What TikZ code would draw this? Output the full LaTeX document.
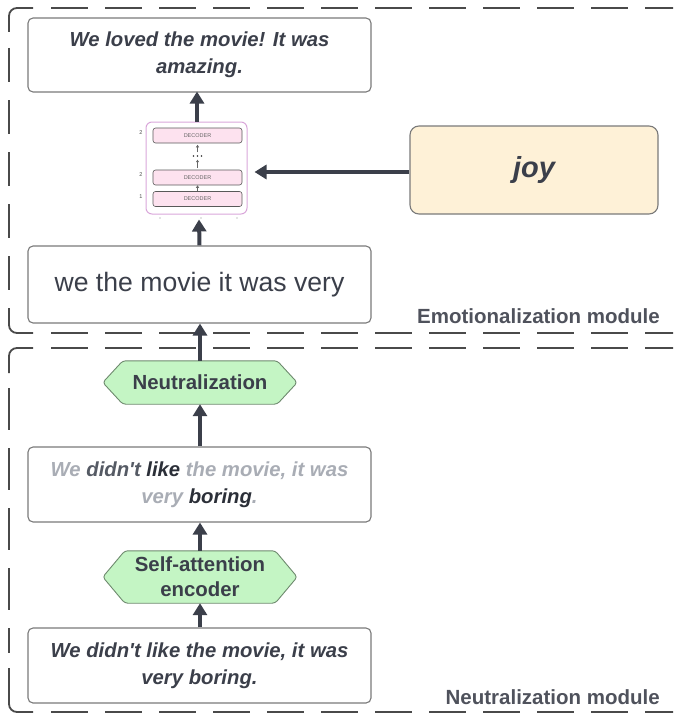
\documentclass[tikz,border=0pt]{standalone}
\usepackage{fontspec}
\setmainfont{Liberation Sans}
\usetikzlibrary{arrows.meta,calc}
\definecolor{txt}{HTML}{3B3F4A}
\definecolor{bord}{HTML}{7A7A7A}
\definecolor{dashc}{HTML}{4A4A4A}
\definecolor{lgt}{HTML}{A9ADB5}
\definecolor{dk1}{HTML}{555A64}
\definecolor{dk2}{HTML}{2B2F38}
\definecolor{joyfill}{HTML}{FEF1D7}
\definecolor{hexfill}{HTML}{C4F5C4}
\definecolor{hexbord}{HTML}{6E8A6E}
\definecolor{decfr}{HTML}{D9A6DA}
\definecolor{decfill}{HTML}{FDE2EF}
\newcommand{\aps}{\textquotesingle}
\tikzset{
  frameline/.style={draw=dashc, line width=1.8pt, rounded corners=8pt},
  edgedash/.style={frameline, dash pattern=on 37pt off 17pt},
  txtbox/.style={draw=bord, line width=1.1pt, rounded corners=5pt, fill=white, text=txt, align=center, inner sep=0pt, minimum width=343pt},
  bitext/.style={font=\bfseries\itshape\fontsize{20.3}{26.5}\selectfont},
  hexbox/.style={draw=none, inner sep=0pt, text=txt, align=center, font=\bfseries\fontsize{20.4}{25}\selectfont},
  hexline/.style={draw=hexbord, fill=hexfill, line width=0.9pt, rounded corners=3pt},
  bigarrow/.style={draw=txt, line width=4pt, -{Triangle[width=14pt,length=12pt]}},
  decbox/.style={draw=black!65, fill=decfill, line width=0.6pt, rounded corners=2.5pt, minimum width=89pt, minimum height=15pt, inner sep=0pt, font=\fontsize{5.5}{6}\selectfont, text=black!60},
  declabel/.style={font=\fontsize{5.5}{6}\selectfont, text=black!70, inner sep=0pt},
  smallarrow/.style={draw=black!60, line width=0.6pt, -{Triangle[width=3pt,length=2.5pt]}},
  modlabel/.style={font=\bfseries\fontsize{20.5}{22}\selectfont, text=txt!90!white, anchor=east, inner sep=0pt}
}
\begin{document}
\begin{tikzpicture}[x=1pt,y=-1pt]
\useasboundingbox (0,0) rectangle (673,717);
\clip (0,0) rectangle (673,717);
% emotionalization module frame
\draw[frameline] (9,32) -- (9,8) -- (33,8);
\draw[frameline] (9,308) -- (9,333) -- (33,333);
\draw[frameline, dash pattern=on 34pt off 18pt] (9,48) -- (9,292);
\draw[edgedash] (51,8) -- (700,8);
\draw[edgedash] (51,333) -- (700,333);
% neutralization module frame
\draw[frameline] (9,373) -- (9,348) -- (33,348);
\draw[frameline] (9,668) -- (9,712) -- (33,712);
\draw[frameline, dash pattern=on 42pt off 18pt] (9,388) -- (9,653);
\draw[edgedash] (51,348) -- (700,348);
\draw[edgedash] (51,712) -- (700,712);
\node[modlabel] (emolab) at (660,316) {Emotionalization module};
\node[modlabel] (neulab) at (660,697) {Neutralization module};

% top output box
\node[txtbox, bitext, minimum height=74pt] (out) at (199.5,55) {We loved the movie! It was\\amazing.};

% decoder block
\node[draw=decfr, line width=1pt, rounded corners=6pt, minimum width=101pt, minimum height=92pt, inner sep=0pt] (dec) at (196.5,168) {};
\node[decbox] (d3) at (197.5,135.5) {DECODER};
\node[decbox] (d2) at (197.5,177.5) {DECODER};
\node[decbox] (d1) at (197.5,199) {DECODER};
\node[minimum width=12pt, minimum height=4pt, inner sep=0pt] (dots) at (197.5,156) {};
\foreach \dx in {-4,0,4} \fill[black!80] ($(dots.center)+(\dx,0)$) circle (0.9pt);
\node[declabel] (l3) at (141,133) {2};
\node[declabel] (l2) at (141,175) {2};
\node[declabel] (l1) at (141,197) {1};
\draw[smallarrow] (d1.north) -- (d2.south);
\draw[smallarrow] ($(d2.north)+(0,-1.5)$) -- ($(dots.south)+(0,1.5)$);
\draw[smallarrow] ($(dots.north)+(0,-1.5)$) -- ($(d3.south)+(0,1.5)$);
\coordinate (t1) at (160,218);
\coordinate (t2) at (201,218);
\coordinate (t3) at (237,218);
\foreach \t in {t1,t2,t3} \fill[black!45] (\t) circle (0.6pt);

% joy
\node[draw=bord, line width=1.1pt, rounded corners=9pt, fill=joyfill, minimum width=248pt, minimum height=88pt, text=txt, font=\bfseries\itshape\fontsize{29}{32}\selectfont] (joy) at (534,170) {joy};

% middle box
\node[txtbox, minimum height=77pt, font=\fontsize{26.6}{30}\selectfont] (mid) at (199.5,284.5) {we the movie it was very};

% neutralization hex
\node[hexbox, minimum width=194pt, minimum height=43pt] (neu) at (200,382.5) {};
\draw[hexline] (neu.west) -- ($(neu.north west)+(20,0)$) -- ($(neu.north east)+(-20,0)$) -- (neu.east) -- ($(neu.south east)+(-20,0)$) -- ($(neu.south west)+(20,0)$) -- cycle;
\node[hexbox] at (neu.center) {Neutralization};

% masked box
\node[txtbox, bitext, minimum height=75pt] (mask) at (199.5,484.5) {{\color{lgt}We} {\color{dk1}didn\aps t} {\color{dk2}like} {\color{lgt}the movie, it was}\\{\color{lgt}very} {\color{dk2}boring}{\color{lgt}.}};

% self-attention hex
\node[hexbox, minimum width=194pt, minimum height=52pt] (enc) at (200,577) {};
\draw[hexline] (enc.west) -- ($(enc.north west)+(22,0)$) -- ($(enc.north east)+(-22,0)$) -- (enc.east) -- ($(enc.south east)+(-22,0)$) -- ($(enc.south west)+(22,0)$) -- cycle;
\node[hexbox] at (enc.center) {Self-attention\\encoder};

% input box
\node[txtbox, bitext, minimum height=75pt] (inp) at (199.5,665.5) {We didn\aps t like the movie, it was\\very boring.};

% arrows
\draw[bigarrow] ($(dec.north)+(0.5,0)$) -- ($(out.south)+(-2.5,-1)$);
\draw[bigarrow] ($(joy.west)+(0,2)$) -- ($(dec.east)+(7,4)$);
\draw[bigarrow] (mid.north) -- ($(dec.south)+(2.5,5)$);
\draw[bigarrow] (neu.north) -- (mid.south -| neu.north);
\draw[bigarrow] (mask.north -| neu.north) -- (neu.south);
\draw[bigarrow] (enc.north) -- (mask.south -| enc.north);
\draw[bigarrow] (inp.north -| enc.north) -- (enc.south);
\end{tikzpicture}
\end{document}
